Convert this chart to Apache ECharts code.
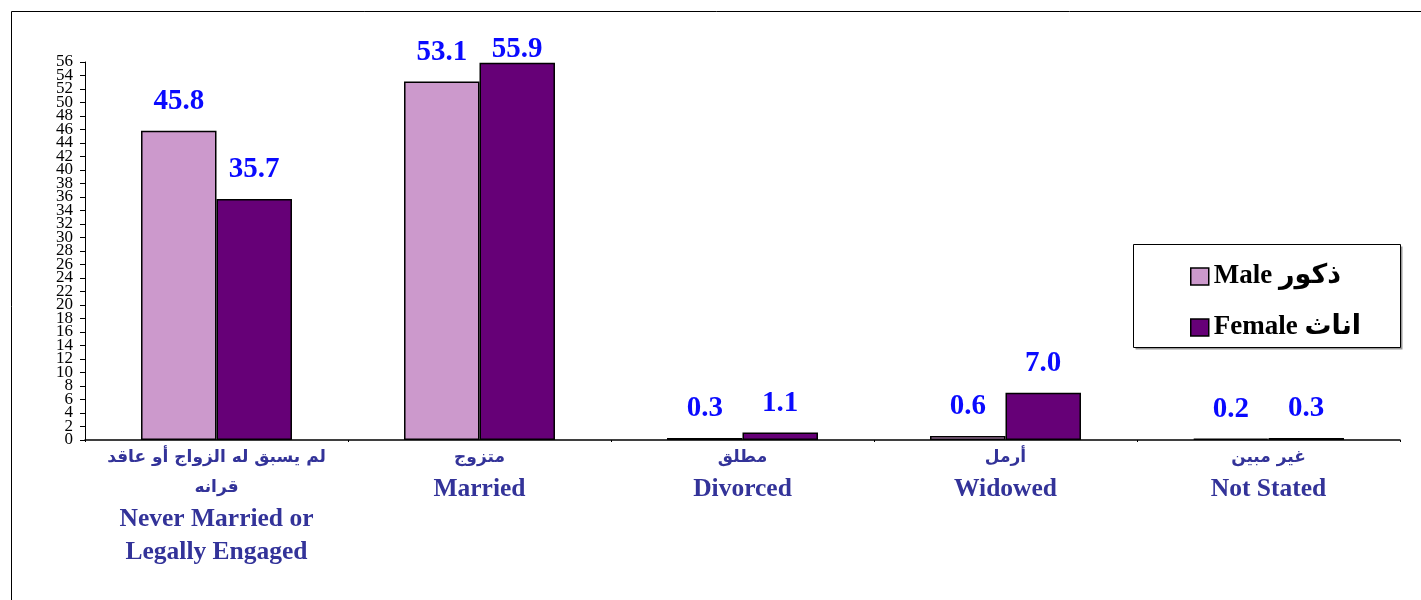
<!DOCTYPE html>
<html>
<head>
<meta charset="utf-8">
<script src="https://cdn.jsdelivr.net/npm/echarts@6/dist/echarts.min.js"></script>
<style>
html,body{margin:0;padding:0;background:#fff;}
#main{width:1421px;height:600px;}
</style>
</head>
<body>
<div id="main"></div>
<script>
const categoriesAr = ['لم يسبق له الزواج أو عاقد\nقرانه', 'متزوج', 'مطلق', 'أرمل', 'غير مبين'];
const categoriesEn = ['Never Married or\nLegally Engaged', 'Married', 'Divorced', 'Widowed', 'Not Stated'];
const seriesNames = ['Male ذكور', 'Female اناث'];
const maleValues = [45.8, 53.1, 0.3, 0.6, 0.2];
const femaleValues = [35.7, 55.9, 1.1, 7.0, 0.3];
const yMin = 0, yMax = 56, yStep = 2;

const serif = '"Liberation Serif", "Times New Roman", "DejaVu Sans", serif';

const catLabels = categoriesAr.map((ar, i) => {
  const arLines = ar.split('\n').map(s => '{ar|' + s + '}');
  const enLines = categoriesEn[i].split('\n').map(s => '{en|' + s + '}');
  return arLines.concat(enLines).join('\n');
});

const chart = echarts.init(document.getElementById('main'));
const valueLabel = {
  show: true, position: 'top', distance: 15,
  color: '#0a0aff', fontFamily: serif, fontWeight: 'bold', fontSize: 29,
  formatter: p => Number(p.value).toFixed(1)
};
const maxVal = Math.max(...femaleValues, ...maleValues);
const femaleData = femaleValues.map(v => v === maxVal ? {value: v, label: {offset: [0, 16]}} : v);

const yLabelBase = {color: '#000', fontFamily: serif, fontSize: 17, margin: 12, interval: 0, hideOverlap: false};

chart.setOption({
  backgroundColor: '#fff',
  animation: false,
  graphic: [
    {type: 'rect', shape: {x: 11.5, y: 11.5, width: 1500, height: 700}, style: {fill: 'none', stroke: '#000', lineWidth: 1}, z: 0},
    {type: 'rect', shape: {x: 1135.5, y: 246.5, width: 267, height: 103}, style: {fill: '#999', stroke: null}, z: 1},
    {type: 'rect', shape: {x: 1133.5, y: 244.5, width: 267, height: 103}, style: {fill: '#fff', stroke: '#000', lineWidth: 1}, z: 2}
  ],
  grid: {left: 85, right: 21, top: 62, bottom: 160, containLabel: false},
  legend: {
    orient: 'vertical', left: 1185, top: 258,
    itemWidth: 18, itemHeight: 17, itemGap: 24,
    icon: 'rect',
    textStyle: {fontFamily: serif, fontWeight: 'bold', fontSize: 27, color: '#000', lineHeight: 26},
    itemStyle: {borderColor: '#000', borderWidth: 1.5},
    z: 5,
    data: seriesNames
  },
  xAxis: {
    type: 'category',
    data: catLabels,
    axisLine: {lineStyle: {color: '#000', width: 1.5}},
    axisTick: {show: true, length: 2, lineStyle: {color: '#000'}},
    axisLabel: {
      interval: 0, margin: 3, color: '#333399',
      rich: {
        ar: {fontFamily: '"DejaVu Sans", sans-serif', fontWeight: 'bold', fontSize: 17, lineHeight: 30, color: '#333399'},
        en: {fontFamily: serif, fontWeight: 'bold', fontSize: 25.5, lineHeight: 33, color: '#333399'}
      }
    }
  },
  yAxis: [
    {
      type: 'value', min: yMin, max: yMax, interval: yStep, position: 'left',
      axisLine: {show: true, lineStyle: {color: '#000', width: 1}},
      axisTick: {show: true, length: 5, inside: false, lineStyle: {color: '#000'}},
      splitLine: {show: false},
      axisLabel: Object.assign({}, yLabelBase, {showMinLabel: true, showMaxLabel: true,
        formatter: v => (v === yMin || v === yMax) ? String(v) : ''})
    },
    {
      type: 'value', min: yMin, max: yMax, interval: yStep, position: 'left', offset: 0,
      axisLine: {show: false}, axisTick: {show: false}, splitLine: {show: false},
      axisLabel: Object.assign({}, yLabelBase, {showMinLabel: false, showMaxLabel: false})
    }
  ],
  series: [
    {
      name: seriesNames[0], type: 'bar', data: maleValues, yAxisIndex: 0,
      barGap: '0%', barCategoryGap: '42.6%',
      itemStyle: {color: '#cc99cc', borderColor: '#000', borderWidth: 1.5},
      label: valueLabel
    },
    {
      name: seriesNames[1], type: 'bar', data: femaleData, yAxisIndex: 0,
      barGap: '0%', barCategoryGap: '42.6%',
      itemStyle: {color: '#660077', borderColor: '#000', borderWidth: 1.5},
      label: valueLabel
    }
  ]
});
</script>
</body>
</html>
